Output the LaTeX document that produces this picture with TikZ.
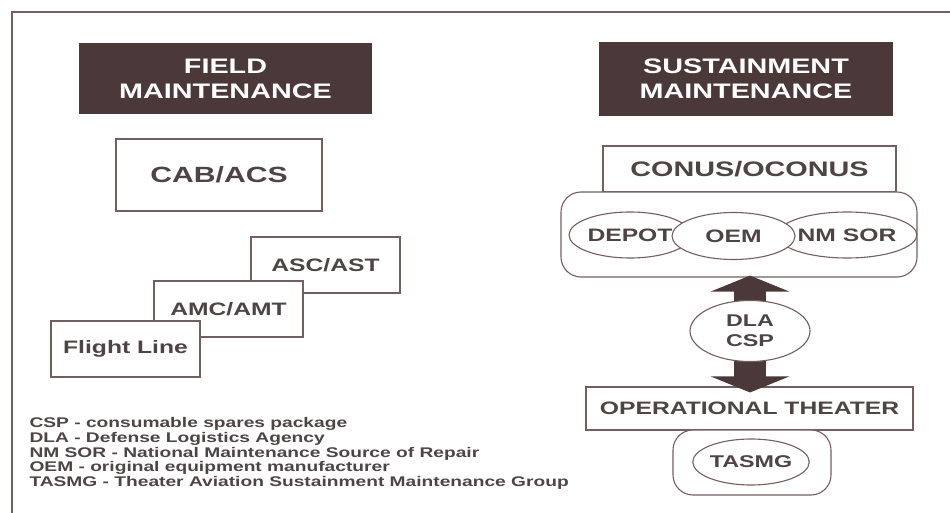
\documentclass[tikz,border=0pt]{standalone}
\usepackage{fontspec}
\setmainfont[FakeStretch=1.37]{Liberation Sans}
\usetikzlibrary{shapes.geometric,arrows.meta}
\definecolor{hdr}{HTML}{4B3838}
\definecolor{ink}{HTML}{4E4444}
\definecolor{edge}{HTML}{735F5F}
\begin{document}
\begin{tikzpicture}[x=1pt,y=-1pt,line width=1.1pt,
  head/.style={fill=hdr,text=white,align=center,inner sep=0pt,font=\bfseries\fontsize{21}{25}\selectfont},
  unit/.style={draw=edge,fill=white,text=ink,inner sep=0pt,font=\bfseries\fontsize{18}{21}\selectfont},
  oval/.style={unit,ellipse},
  pod/.style={draw=edge,fill=white,rounded corners=20pt,inner sep=0pt}]
\useasboundingbox (0,0) rectangle (950,513);
\draw[edge] (12,513) -- (12,12) -- (950,12);
\node[head,minimum width=293pt,minimum height=71pt] (field) at (225.5,78.5) {FIELD\\MAINTENANCE};
\node[head,minimum width=294pt,minimum height=74pt] (sust) at (746,79) {SUSTAINMENT\\MAINTENANCE};
\node[unit,minimum width=206pt,minimum height=72pt,font=\bfseries\fontsize{22}{26}\selectfont] (cab) at (219,175) {CAB/ACS};
\node[unit,minimum width=149pt,minimum height=56pt] (asc) at (325.5,265) {ASC/AST};
\node[unit,minimum width=149pt,minimum height=56pt] (amc) at (228.5,309) {AMC/AMT};
\node[unit,minimum width=149pt,minimum height=56pt] (line) at (125.5,349) {Flight Line};
\node[anchor=north west,align=left,inner sep=0pt,text=ink,font=\bfseries\fontsize{14}{14.75}\selectfont] (key) at (29,417)
  {CSP - consumable spares package\\DLA - Defense Logistics Agency\\NM SOR - National Maintenance Source of Repair\\OEM - original equipment manufacturer\\TASMG - Theater Aviation Sustainment Maintenance Group};
\node[unit,minimum width=293pt,minimum height=46pt,font=\bfseries\fontsize{21}{25}\selectfont] (conus) at (749.5,169) {CONUS/OCONUS};
\node[pod,minimum width=356pt,minimum height=85pt] (site) at (739,234.5) {};
\node[oval,minimum width=122pt,minimum height=46pt] (depot) at (630,235) {DEPOT};
\node[oval,minimum width=124pt,minimum height=46pt] (nmsor) at (847,235) {NM SOR};
\node[oval,minimum width=123pt,minimum height=47pt] (oem) at (733.5,236) {OEM};
\node[unit,minimum width=327pt,minimum height=43pt] (ops) at (749.5,408.5) {OPERATIONAL THEATER};
\node[pod,minimum width=158pt,minimum height=65pt] (group) at (752,462.5) {};
\node[oval,minimum width=114pt,minimum height=46pt,font=\bfseries\fontsize{17}{20}\selectfont] (tasmg) at (751,462) {TASMG};
\coordinate (dla0) at (750,331);
\draw[hdr,line width=32pt,{Triangle[length=16pt,width=78pt]}-{Triangle[length=16pt,width=78pt]},shorten <=-2pt,shorten >=-6pt] (dla0 |- site.south) -- (dla0 |- ops.north);
\node[oval,minimum width=120pt,minimum height=61pt,align=center,font=\bfseries\fontsize{17}{20}\selectfont] (dla) at (dla0) {DLA\\CSP};
\end{tikzpicture}
\end{document}
